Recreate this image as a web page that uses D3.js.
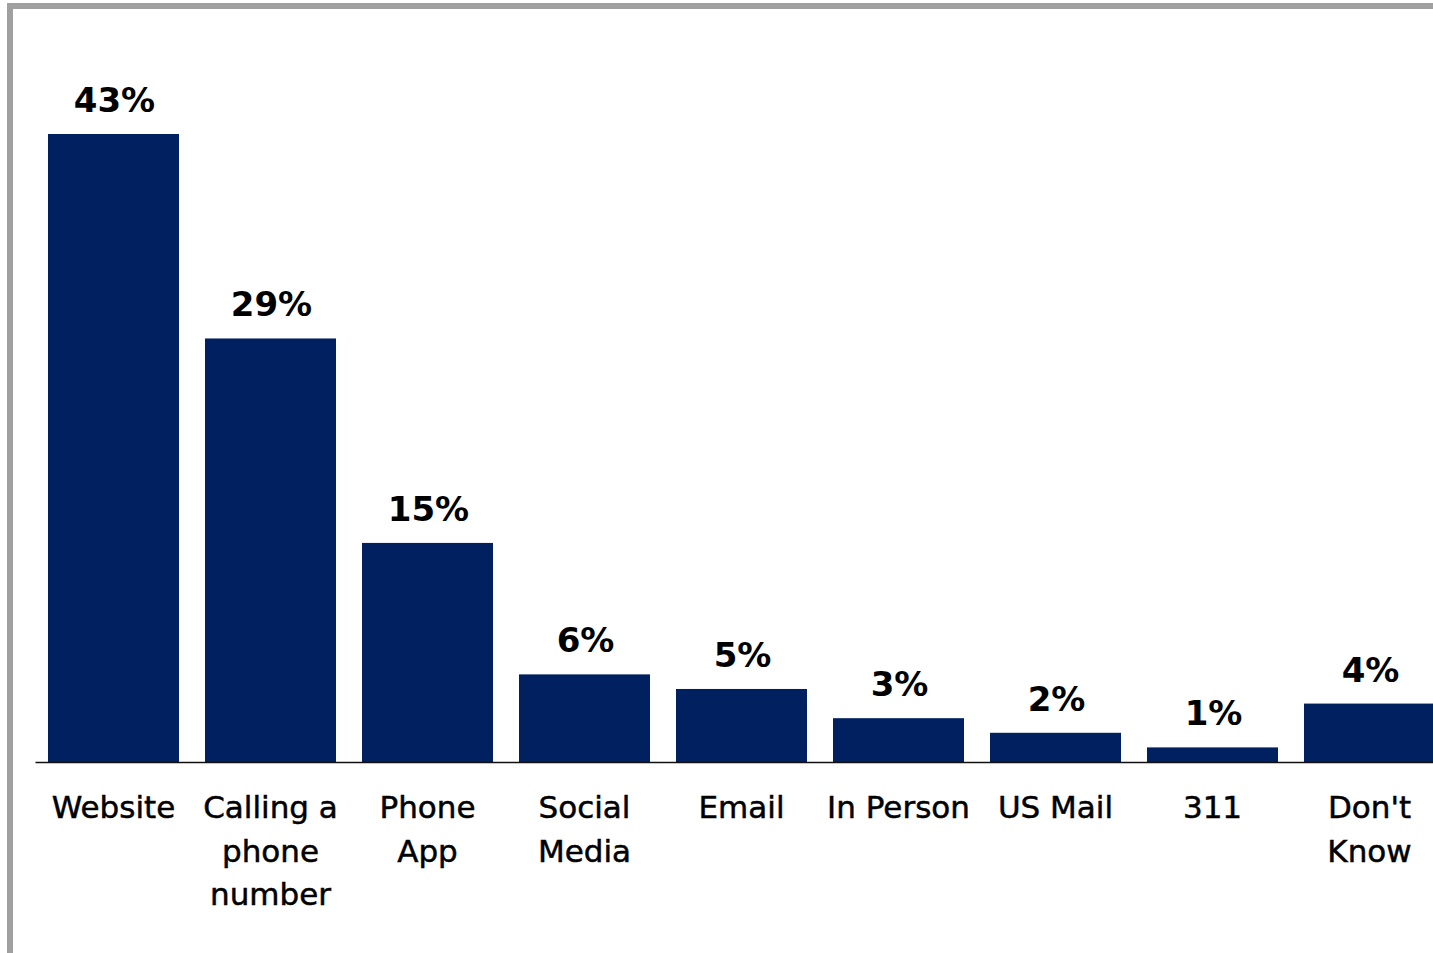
<!DOCTYPE html>
<html>
<head>
<meta charset="utf-8">
<script src="https://cdn.jsdelivr.net/npm/d3@7"></script>
<style>
  html, body { margin: 0; padding: 0; background: #fff; }
  svg { display: block; }
</style>
</head>
<body>
<svg id="chart" width="1433" height="953"></svg>
<script>
// Categories (line breaks within a label are separated by "|")
const categories = ["Website", "Calling a|phone|number", "Phone|App", "Social|Media", "Email", "In Person", "US Mail", "311", "Don't|Know"];
// Share of respondents, percent
const values = [43, 29, 15, 6, 5, 3, 2, 1, 4];

const W = 1433, H = 953;
const svg = d3.select("#chart");

const x = d3.scaleBand()
  .domain(categories)
  .range([35, 1448])
  .paddingInner(0.1656)
  .paddingOuter(0.0828);

const y = d3.scaleLinear()
  .domain([0, 43])
  .range([762, 134]);

// Frame lines (top and left)
svg.append("rect").attr("x", 7).attr("y", 3).attr("width", W).attr("height", 6).attr("fill", "#a0a0a0");
svg.append("rect").attr("x", 7).attr("y", 3).attr("width", 6).attr("height", H).attr("fill", "#a0a0a0");

// Bars
svg.append("g").selectAll("rect")
  .data(values)
  .join("rect")
  .attr("x", (d, i) => x(categories[i]))
  .attr("y", d => y(d))
  .attr("width", x.bandwidth())
  .attr("height", d => y(0) - y(d))
  .attr("fill", "#002060");

// Baseline axis
const axis = d3.axisBottom(x).tickSize(0).tickFormat("");
const ax = svg.append("g").attr("transform", `translate(0,${y(0)})`).call(axis);
ax.select(".domain").attr("stroke", "#111").attr("stroke-width", 1.5);

// Value labels
svg.append("g").selectAll("text")
  .data(values)
  .join("text")
  .attr("x", (d, i) => x(categories[i]) + x.bandwidth() / 2 + 1)
  .attr("y", d => y(d) - 22)
  .attr("text-anchor", "middle")
  .attr("font-family", "'DejaVu Sans', sans-serif")
  .attr("font-weight", "bold")
  .attr("font-size", 34)
  .attr("fill", "#000")
  .text(d => d + "%");

// Category labels
const catG = svg.append("g");
categories.forEach(c => {
  const t = catG.append("text")
    .attr("x", x(c) + x.bandwidth() / 2)
    .attr("y", 818)
    .attr("text-anchor", "middle")
    .attr("font-family", "'DejaVu Sans', sans-serif")
    .attr("font-size", 31)
    .attr("fill", "#000")
    .attr("stroke", "#000")
    .attr("stroke-width", 0.5);
  c.split("|").forEach((line, j) => {
    t.append("tspan")
      .attr("x", x(c) + x.bandwidth() / 2)
      .attr("dy", j === 0 ? 0 : 43.5)
      .text(line);
  });
});
</script>
</body>
</html>
